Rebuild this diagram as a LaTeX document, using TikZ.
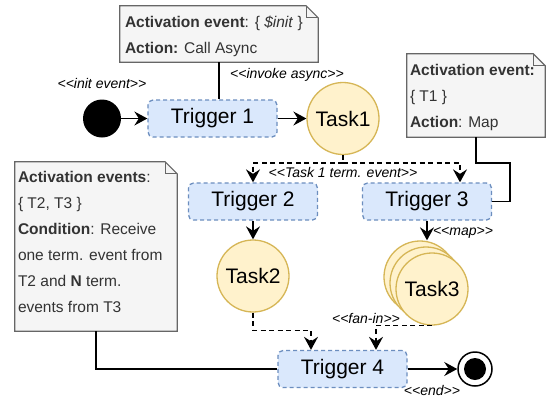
\documentclass[tikz,border=0pt]{standalone}
\usepackage{fontspec}
\setmainfont{Liberation Sans}
\usetikzlibrary{arrows.meta,backgrounds,calc}
\definecolor{notefill}{HTML}{F5F5F5}
\definecolor{noteline}{HTML}{666666}
\definecolor{notetext}{HTML}{333333}
\definecolor{trigfill}{HTML}{DAE8FC}
\definecolor{trigline}{HTML}{6C8EBF}
\definecolor{taskfill}{HTML}{FFF2CC}
\definecolor{taskline}{HTML}{D6B656}
\tikzset{
  trigger/.style={draw=trigline, fill=trigfill, line width=1.3pt, dash pattern=on 4pt off 3pt,
    rounded corners=5pt, minimum width=129pt, minimum height=37pt, inner sep=0pt,
    font=\fontsize{21}{24}\selectfont},
  task/.style={circle, draw=taskline, fill=taskfill, line width=1.3pt, minimum size=72pt,
    inner sep=0pt, font=\fontsize{21}{24}\selectfont},
  notebox/.style={rectangle, inner sep=0pt},
  notetxt/.style={text=notetext, font=\fontsize{15.5}{26}\selectfont, align=left, inner sep=0pt},
  noteshape/.style={draw=noteline, fill=notefill, line width=1.2pt, line join=miter},
  conn/.style={line width=1.4pt, -{Stealth[length=13pt,width=14pt,inset=4.5pt]}},
  dconn/.style={conn, dash pattern=on 5pt off 3.5pt},
  dline/.style={line width=1.4pt, dash pattern=on 5pt off 3.5pt},
  link/.style={line width=1.4pt},
  lbl/.style={font=\fontsize{14}{16}\selectfont\itshape, inner sep=0pt},
}
\newcommand{\drawnote}[1]{%
  \draw[noteshape] (#1.south west) -- (#1.north west) -- ([xshift=-12pt]#1.north east)
    -- ([yshift=-12pt]#1.north east) -- (#1.south east) -- cycle;
  \draw[noteshape, fill=none] ([xshift=-12pt]#1.north east) -- ([xshift=-12pt,yshift=-12pt]#1.north east)
    -- ([yshift=-12pt]#1.north east);}
\begin{document}
\begin{tikzpicture}[x=1pt,y=-1pt]
\path[use as bounding box] (0,0) rectangle (546,400);

% notes
\node[notebox, minimum width=198pt, minimum height=56pt] (n1) at (219,34) {};
\node[notetxt, anchor=west] (n1t) at ([xshift=5pt,yshift=-2pt]n1.west) {\textbf{Activation event}: \{ \textit{\$init} \}\\\textbf{Action:} Call Async};
\node[notebox, minimum width=138pt, minimum height=83pt] (n2) at (476,95.5) {};
\node[notetxt, anchor=west] (n2t) at ([xshift=3pt,yshift=-2pt]n2.west) {\textbf{Activation event:}\\\{ T1 \}\\\textbf{Action}: Map};
\node[notebox, minimum width=162pt, minimum height=169pt] (n3) at (96,246.5) {};
\node[notetxt, anchor=west] (n3t) at ([xshift=3pt,yshift=5pt]n3.west) {\textbf{Activation events}:\\\{ T2, T3 \}\\\textbf{Condition}: Receive\\one term. event from\\T2 and \textbf{N} term.\\events from T3};
\begin{scope}[on background layer]
  \fill[white] (0,0) rectangle (546,400);
  \drawnote{n1}
  \drawnote{n2}
  \drawnote{n3}
\end{scope}

% start / end
\node[circle, fill=black, minimum size=38pt, inner sep=0pt] (start) at (102,118.5) {};
\node[circle, draw=black, fill=white, line width=1.5pt, minimum size=34pt, inner sep=0pt] (endc) at (475,369) {};
\node[circle, fill=black, minimum size=22pt, inner sep=0pt] (endd) at (endc) {};

% triggers
\node[trigger] (t1) at (212.5,118.5) {Trigger 1};
\node[trigger] (t2) at (253,201.5) {Trigger 2};
\node[trigger] (t3) at (427,201.5) {Trigger 3};
\node[trigger] (t4) at (342.5,369) {Trigger 4};

% tasks
\node[task] (task1) at (343,118.5) {Task1};
\node[task] (task2) at (253,276) {Task2};
\node[task] (task3a) at (420,277) {};
\node[task] (task3b) at (426,283) {};
\node[task] (task3c) at (432,289) {Task3};

% connectors
\draw[conn] (start) -- (t1);
\draw[conn] (t1) -- (task1);
\draw[link] (n1.south) -- (n1.south |- t1.north);

\coordinate (split) at (343,163);
\draw[dline] (task1.south) -- (split);
\draw[dconn] (split) -| (t2.north);
\coordinate (t3in) at ([xshift=33pt]t3.north);
\draw[dconn] (split) -| (t3in);

\coordinate (n2bend) at (510,163);
\draw[link] (n2.south) |- (n2bend) |- (t3.east);

\draw[conn] (t2) -- (task2);
\draw[conn] (t3.south) -- (t3.south |- task3a.north);

\coordinate (t4in1) at ([xshift=-31.5pt]t4.north);
\coordinate (t4in2) at ([xshift=33.5pt]t4.north);
\draw[dconn] (task2.south) -- ++(0,18) -| (t4in1);
\draw[dconn] (task3c.south) -| (t4in2);

\draw[link] (n3.south) |- (t4.west);
\draw[conn] (t4) -- (endc);

% labels
\node[lbl] (l1) at (102,83) {<{}<init event>{}>};
\node[lbl] (l2) at (287,75) {<{}<invoke async>{}>};
\node[lbl] (l3) at (343,172) {<{}<Task 1 term. event>{}>};
\node[lbl] (l4) at (463,233) {<{}<map>{}>};
\node[lbl] (l5) at (366,318) {<{}<fan-in>{}>};
\node[lbl] (l6) at (432,390) {<{}<end>{}>};
\end{tikzpicture}
\end{document}
